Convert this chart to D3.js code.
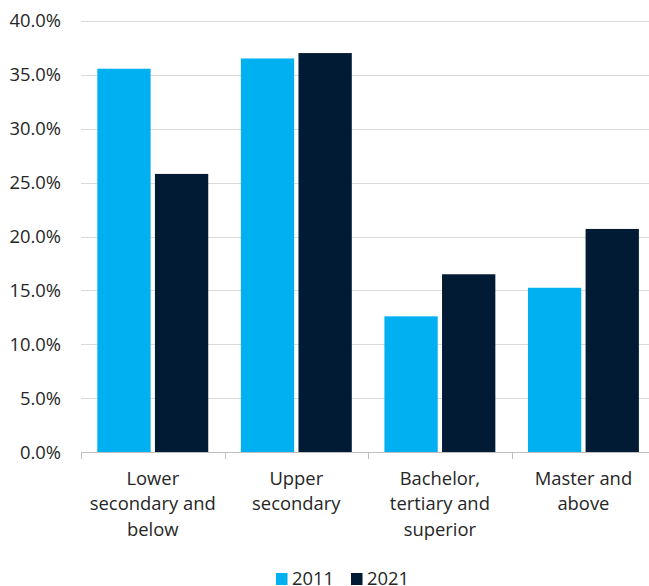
<!DOCTYPE html>
<html>
<head>
<meta charset="utf-8">
<script src="https://cdn.jsdelivr.net/npm/d3@7"></script>
<style>
  html, body { margin: 0; padding: 0; background: #fff; }
  svg { display: block; }
  text { font-family: "Open Sans", sans-serif; fill: #262626; }
</style>
</head>
<body>
<svg id="chart" width="649" height="586"></svg>
<script>
const categories = [
  ["Lower", "secondary and", "below"],
  ["Upper", "secondary"],
  ["Bachelor,", "tertiary and", "superior"],
  ["Master and", "above"]
];
const categoryKeys = ["Lower secondary and below", "Upper secondary", "Bachelor, tertiary and superior", "Master and above"];
const seriesNames = ["2011", "2021"];
const values2011 = [35.55, 36.5, 12.6, 15.25];
const values2021 = [25.8, 37.0, 16.5, 20.7];
const yTicks = [0, 5, 10, 15, 20, 25, 30, 35, 40];
const colors = ["#00b0f0", "#001b33"];

const svg = d3.select("#chart");
const plotLeft = 81, plotRight = 655.2, plotTop = 20.7, plotBottom = 452.3;
const fontSize = "18.4px";

const x0 = d3.scaleBand().domain(categoryKeys).range([plotLeft, plotRight]).paddingInner(0).paddingOuter(0);
const x1 = d3.scaleBand().domain(seriesNames).range([0, x0.bandwidth()]).paddingInner(0.075).paddingOuter(0.283);
const y = d3.scaleLinear().domain([0, 40]).range([plotBottom, plotTop]);

// gridlines
svg.append("g").selectAll("line").data(yTicks.filter(d => d > 0)).join("line")
  .attr("x1", plotLeft).attr("x2", 649)
  .attr("y1", d => Math.round(y(d)) + 0.5).attr("y2", d => Math.round(y(d)) + 0.5)
  .attr("stroke", "#d9d9d9").attr("stroke-width", 1);

// y axis labels
const yAxis = d3.axisLeft(y).tickValues(yTicks).tickFormat(d => d3.format(".1f")(d) + "%").tickSize(0).tickPadding(20);
const yg = svg.append("g").attr("transform", `translate(${plotLeft},0)`).call(yAxis);
yg.select(".domain").remove();
yg.selectAll("text").style("font-family", "'Open Sans', sans-serif").style("font-size", fontSize).attr("fill", "#262626");

// bars
const data = categoryKeys.map((c, i) => ({ cat: c, vals: [values2011[i], values2021[i]] }));
const groups = svg.append("g").selectAll("g").data(data).join("g")
  .attr("transform", d => `translate(${x0(d.cat)},0)`);
groups.selectAll("rect").data(d => d.vals.map((v, j) => ({ s: seriesNames[j], v, j }))).join("rect")
  .attr("x", d => x1(d.s))
  .attr("width", x1.bandwidth())
  .attr("y", d => y(d.v))
  .attr("height", d => y(0) - y(d.v))
  .attr("fill", d => colors[d.j]);

// x axis
const xAxisG = svg.append("g");
xAxisG.append("line").attr("x1", plotLeft).attr("x2", 649).attr("y1", Math.round(plotBottom) + 0.5).attr("y2", Math.round(plotBottom) + 0.5)
  .attr("stroke", "#bfbfbf");
const tickXs = [plotLeft].concat(categoryKeys.map(c => x0(c) + x0.bandwidth()));
xAxisG.selectAll("line.tick").data(tickXs.filter(t => t < 649)).join("line").attr("class", "tick")
  .attr("x1", d => Math.round(d) + 0.5).attr("x2", d => Math.round(d) + 0.5)
  .attr("y1", Math.round(plotBottom)).attr("y2", Math.round(plotBottom) + 7)
  .attr("stroke", "#bfbfbf");

// category labels
const lab = svg.append("g").selectAll("text").data(categoryKeys).join("text")
  .attr("x", d => x0(d) + x0.bandwidth() / 2)
  .attr("y", 485)
  .attr("text-anchor", "middle")
  .style("font-size", fontSize);
lab.each(function(d, i) {
  const t = d3.select(this);
  categories[i].forEach((line, k) => {
    t.append("tspan").attr("x", x0(d) + x0.bandwidth() / 2).attr("dy", k === 0 ? 0 : 25.3).text(line);
  });
});

// legend
const legend = svg.append("g");
const legendItems = [{ name: "2011", x: 276 }, { name: "2021", x: 351 }];
legendItems.forEach((it, i) => {
  legend.append("rect").attr("x", it.x).attr("y", 573).attr("width", 11.5).attr("height", 12).attr("fill", colors[i]);
  legend.append("text").attr("x", it.x + 16).attr("y", 584.5).style("font-size", fontSize).text(it.name);
});
</script>
</body>
</html>
